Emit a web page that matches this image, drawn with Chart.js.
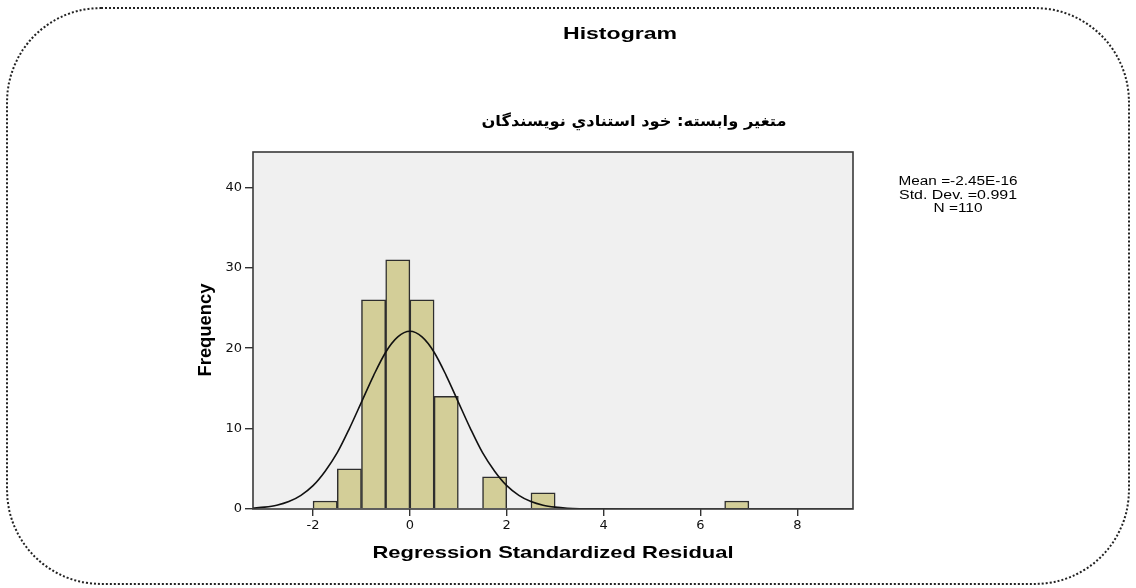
<!DOCTYPE html>
<html>
<head>
<meta charset="utf-8">
<script src="https://cdn.jsdelivr.net/npm/chart.js@4/dist/chart.umd.min.js"></script>
<style>
  html, body { margin: 0; padding: 0; background: #fff; }
  #wrap { position: relative; width: 1136px; height: 588px; overflow: hidden; }
  #frame {
    position: absolute; left: 6px; top: 7px; width: 1120px; height: 574px;
    border: 2px dotted #222; border-radius: 95px; pointer-events: none;
  }
  canvas { position: absolute; left: 0; top: 0; }
</style>
</head>
<body>
<div id="wrap">
  <canvas id="chartCanvas" width="1136" height="588"></canvas>
  <div id="frame"></div>
</div>
<script>
// histogram bins (width 0.5), centers and counts
const binCenters = [-1.75, -1.25, -0.75, -0.25, 0.25, 0.75, 1.25, 1.75, 2.25, 2.75,
                    3.25, 3.75, 4.25, 4.75, 5.25, 5.75, 6.25, 6.75];
const binCounts = [1, 5, 26, 31, 26, 14, null, 4, null, 2,
                   null, null, null, null, null, null, null, 1];

// normal curve
const curveX = [-3.25, -3, -2.75, -2.5, -2.25, -2, -1.75, -1.5, -1.25, -1, -0.75, -0.5, -0.25, 0,
                0.25, 0.5, 0.75, 1, 1.25, 1.5, 1.75, 2, 2.25, 2.5, 2.75, 3, 3.25, 3.5, 4, 5, 6, 7, 8, 9.2];
const curveY = [0.1, 0.23, 0.47, 0.92, 1.7, 2.9, 4.7, 7.0, 10.0, 13.3, 16.6, 19.5, 21.4, 22.1,
                21.4, 19.5, 16.6, 13.3, 10.0, 7.0, 4.7, 2.9, 1.7, 0.92, 0.47, 0.23, 0.1, 0.04, 0.01, 0, 0, 0, 0, 0];

const xTicks = [-2, 0, 2, 4, 6, 8];
const yTicks = [0, 10, 20, 30, 40];

const titleText = "Histogram";
const subtitleText = "متغير وابسته: خود استنادي نويسندگان";
const xTitle = "Regression Standardized Residual";
const yTitle = "Frequency";
const statsLines = ["Mean =-2.45E-16", "Std. Dev. =0.991", "N =110"];

function fitText(ctx, text, cx, cy, font, w, rotate, sy) {
  ctx.save();
  ctx.translate(cx, cy);
  if (rotate) ctx.rotate(-Math.PI / 2);
  ctx.font = font;
  ctx.textAlign = "center";
  ctx.textBaseline = "middle";
  const m = ctx.measureText(text).width;
  ctx.scale(w / m, sy || 1);
  ctx.fillStyle = "#000";
  ctx.fillText(text, 0, 0);
  ctx.restore();
}

const decor = {
  id: "decor",
  beforeDraw(chart) {
    const { ctx, chartArea: a } = chart;
    ctx.save();
    ctx.fillStyle = "#f0f0f0";
    ctx.fillRect(a.left, a.top, a.right - a.left, a.bottom - a.top);
    ctx.restore();
  },
  afterDraw(chart) {
    const { ctx, chartArea: a } = chart;
    ctx.save();
    ctx.strokeStyle = "#3a3a3a";
    ctx.lineWidth = 1.6;
    ctx.strokeRect(a.left, a.top, a.right - a.left, a.bottom - a.top);
    ctx.restore();

    fitText(ctx, titleText, 620, 34, "bold 17px 'Liberation Sans', Arial", 114);
    ctx.save();
    ctx.direction = "rtl";
    fitText(ctx, subtitleText, 634, 122, "bold 15px 'DejaVu Sans'", 305);
    ctx.restore();
    fitText(ctx, xTitle, 553, 553, "bold 17px 'Liberation Sans', Arial", 361);
    fitText(ctx, yTitle, 206, 330, "bold 16px 'Liberation Sans', Arial", 93, true, 1.2);

    const sw = [119, 118, 49];
    statsLines.forEach((s, i) => {
      fitText(ctx, s, 958, 182 + i * 13.5, "12px 'Liberation Sans', Arial", sw[i]);
    });
  }
};

const ctx = document.getElementById("chartCanvas").getContext("2d");
new Chart(ctx, {
  data: {
    datasets: [
      {
        type: "line",
        data: curveX.map((x, i) => ({ x: x, y: curveY[i] })),
        borderColor: "#111",
        borderWidth: 1.6,
        pointRadius: 0,
        cubicInterpolationMode: "monotone",
        fill: false,
        order: 0
      },
      {
        type: "bar",
        data: binCenters.map((x, i) => ({ x: x, y: binCounts[i] })),
        backgroundColor: "#d3ce98",
        borderColor: "#2e2e2e",
        borderWidth: 1.5,
        barPercentage: 1,
        categoryPercentage: 1,
        order: 1
      }
    ]
  },
  options: {
    responsive: false,
    animation: false,
    layout: { padding: { left: 190, right: 283, top: 152, bottom: 22 } },
    plugins: { legend: { display: false }, tooltip: { enabled: false } },
    scales: {
      x: {
        type: "linear",
        min: -3.24,
        max: 9.15,
        offset: false,
        afterFit: s => { s.height = 57; },
        afterBuildTicks: s => { s.ticks = xTicks.map(v => ({ value: v })); },
        ticks: { color: "#111", font: { family: "'DejaVu Sans'", size: 13 }, padding: 2 },
        grid: { offset: false, drawOnChartArea: false, drawTicks: true, tickLength: 7, color: "#333", lineWidth: 1.4 },
        border: { display: false }
      },
      y: {
        min: 0,
        max: 44.4,
        afterFit: s => { s.width = 63; },
        afterBuildTicks: s => { s.ticks = yTicks.map(v => ({ value: v })); },
        ticks: { color: "#111", font: { family: "'DejaVu Sans'", size: 13 }, padding: 3 },
        grid: { drawOnChartArea: false, drawTicks: true, tickLength: 8, color: "#333", lineWidth: 1.4 },
        border: { display: false }
      }
    }
  },
  plugins: [decor]
});
</script>
</body>
</html>
